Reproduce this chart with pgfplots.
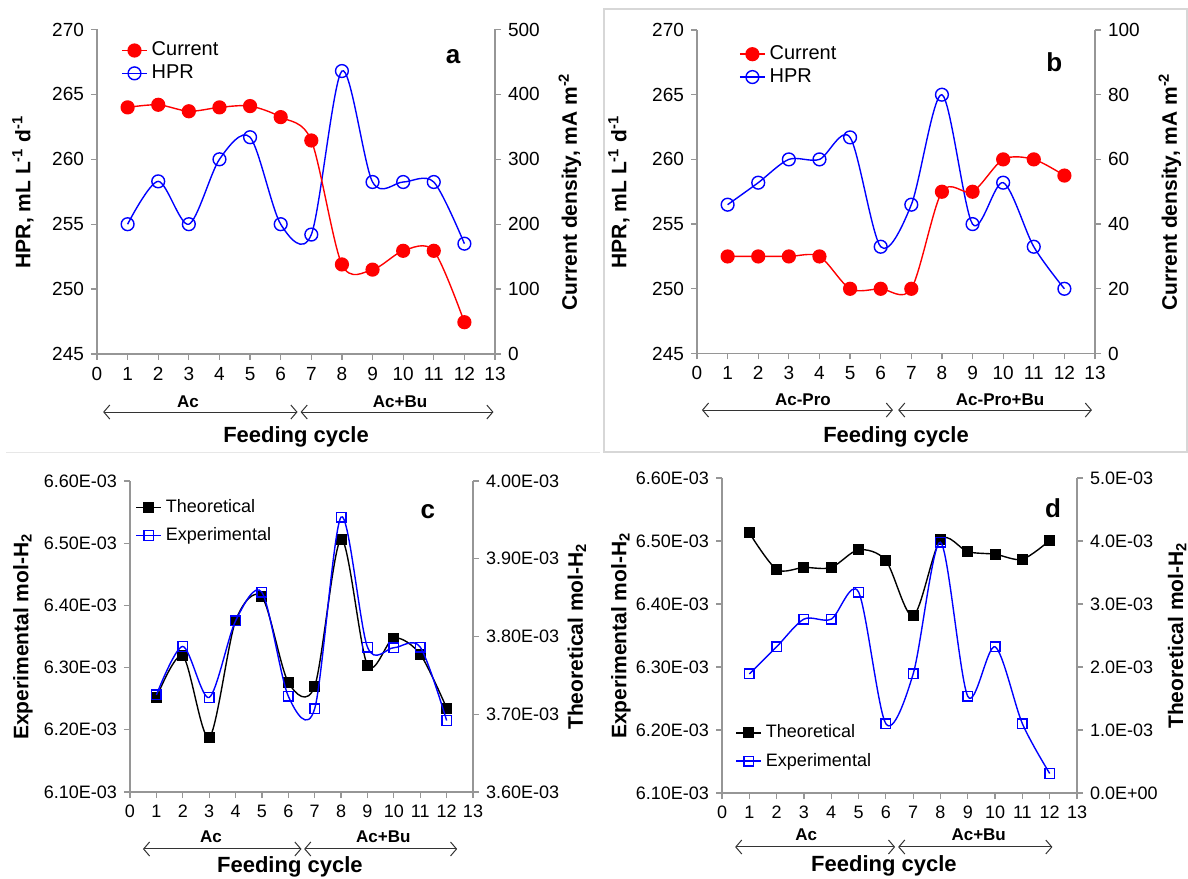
\documentclass[border=0pt]{standalone}
\usepackage{fontspec}
\setmainfont{Liberation Sans}
\usepackage{pgfplots}
\pgfplotsset{compat=1.18}
\usetikzlibrary{arrows.meta}
\definecolor{axgray}{RGB}{150,150,150}
\definecolor{boxgray}{RGB}{215,215,215}
\newcommand{\tickfontA}{\fontsize{9.5}{11}\selectfont}
\newcommand{\tickfontC}{\fontsize{9}{10.5}\selectfont}
\newcommand{\labfont}{\fontsize{10.5}{12}\selectfont\bfseries}
\newcommand{\featfont}{\fontsize{11}{13}\selectfont\bfseries}
\newcommand{\groupfont}{\fontsize{8.5}{10}\selectfont\bfseries}
\newcommand{\letterfont}{\fontsize{13}{15}\selectfont\bfseries}
\tikzset{arr/.style={draw=black!80, line width=0.5pt, {Straight Barb[length=3pt,width=7pt]}-{Straight Barb[length=3pt,width=7pt]}}}
\pgfplotsset{
  panel/.style={scale only axis, anchor=south west, xmin=0, xmax=13, clip=false,
    scaled y ticks=false,
    axis line style={draw=axgray, line width=0.6pt},
    every tick/.style={draw=axgray, line width=0.6pt},
    major tick length=3pt, tick align=outside,
    /pgf/number format/assume math mode=true},
  leftax/.style={panel, axis x line*=bottom, axis y line*=left, xtick={0,1,...,13}},
  rightax/.style={panel, axis x line=none, axis y line*=right},
  curr/.style={red, line width=0.7pt, smooth, mark=*, mark size=3.2pt, mark options={fill=red, draw=red, solid}},
  hpr/.style={blue, line width=0.7pt, smooth, mark=o, mark size=3.2pt, mark options={fill=white, draw=blue, solid}},
  theo/.style={black, line width=0.7pt, smooth, mark=square*, mark size=2.4pt, mark options={fill=black, draw=black, solid}},
  expt/.style={blue, line width=0.7pt, smooth, mark=square, mark size=2.4pt, mark options={draw=blue, solid}},
  leg/.style={legend style={draw=none, fill=none, at={#1}, anchor=north west, inner sep=0pt, row sep=-1pt},
    legend cell align=left,
    legend image code/.code={\draw[mark repeat=2,mark phase=2,##1] plot coordinates {(0cm,0cm) (0.22cm,0cm) (0.44cm,0cm)};}},
}
\begin{document}
\begin{tikzpicture}
\path[use as bounding box] (0,0) rectangle (594pt,439pt);
\draw[boxgray, line width=0.6pt] (302pt,213pt) rectangle (593.5pt,434.5pt);
\draw[boxgray!60, line width=0.5pt] (3pt,212.5pt) -- (300pt,212.5pt);

% ---------------- Panel a ----------------
\begin{axis}[leftax, at={(48.5pt,262pt)}, width=199pt, height=162.25pt,
  ymin=245, ymax=270, ytick={245,250,...,270}, tick label style={font=\tickfontA},
  every axis y label/.style={at={(axis description cs:-0.186,0.5)}, rotate=90, anchor=center, font=\labfont},
  ylabel={HPR, mL L\textsuperscript{-1} d\textsuperscript{-1}}]
\addplot[hpr] coordinates {(1,255) (2,258.3) (3,255) (4,260) (5,261.7) (6,255) (7,254.2) (8,266.8) (9,258.25) (10,258.25) (11,258.25) (12,253.5)};
\draw[arr] (axis cs:0.2,240.53) -- (axis cs:6.55,240.53);
\draw[arr] (axis cs:6.65,240.53) -- (axis cs:12.95,240.53);
\node[font=\groupfont] at (axis cs:2.97,241.3) {Ac};
\node[font=\groupfont] at (axis cs:9.9,241.3) {Ac+Bu};
\node[font=\featfont] at (axis cs:6.5,238.6) {Feeding cycle};
\node[font=\letterfont] at (axis cs:11.63,267.9) {a};
\end{axis}
\begin{axis}[rightax, at={(48.5pt,262pt)}, width=199pt, height=162.25pt,
  ymin=0, ymax=500, ytick={0,100,...,500}, tick label style={font=\tickfontA},
  every axis y label/.style={at={(axis description cs:1.188,0.5)}, rotate=90, anchor=center, font=\labfont},
  ylabel={Current density, mA m\textsuperscript{-2}},
  leg={(axis description cs:0.06,0.975)}, legend style={font=\fontsize{10}{11}\selectfont}]
\addplot[curr] coordinates {(1,380) (2,384) (3,374) (4,380) (5,382) (6,365) (7,329) (8,138) (9,130) (10,159) (11,159) (12,49)};
\addlegendentry{Current}
\addlegendimage{hpr}
\addlegendentry{HPR}
\end{axis}

% ---------------- Panel b ----------------
\begin{axis}[leftax, at={(348.5pt,262.25pt)}, width=199pt, height=161.75pt,
  ymin=245, ymax=270, ytick={245,250,...,270}, tick label style={font=\tickfontA},
  every axis y label/.style={at={(axis description cs:-0.196,0.5)}, rotate=90, anchor=center, font=\labfont},
  ylabel={HPR, mL L\textsuperscript{-1} d\textsuperscript{-1}}]
\addplot[hpr] coordinates {(1,256.5) (2,258.2) (3,260) (4,260) (5,261.7) (6,253.25) (7,256.5) (8,265) (9,255) (10,258.2) (11,253.25) (12,250)};
\draw[arr] (axis cs:0.16,240.63) -- (axis cs:6.4,240.63);
\draw[arr] (axis cs:6.57,240.63) -- (axis cs:12.9,240.63);
\node[font=\groupfont] at (axis cs:3.46,241.4) {Ac-Pro};
\node[font=\groupfont] at (axis cs:9.9,241.4) {Ac-Pro+Bu};
\node[font=\featfont] at (axis cs:6.5,238.55) {Feeding cycle};
\node[font=\letterfont] at (axis cs:11.67,267.5) {b};
\end{axis}
\begin{axis}[rightax, at={(348.5pt,262.25pt)}, width=199pt, height=161.75pt,
  ymin=0, ymax=100, ytick={0,20,...,100}, tick label style={font=\tickfontA},
  every axis y label/.style={at={(axis description cs:1.188,0.5)}, rotate=90, anchor=center, font=\labfont},
  ylabel={Current density, mA m\textsuperscript{-2}},
  leg={(axis description cs:0.105,0.965)}, legend style={font=\fontsize{10}{11}\selectfont}]
\addplot[curr] coordinates {(1,30) (2,30) (3,30) (4,30) (5,20) (6,20) (7,20) (8,50) (9,50) (10,60) (11,60) (12,55)};
\addlegendentry{Current}
\addlegendimage{hpr}
\addlegendentry{HPR}
\end{axis}

% ---------------- Panel c ----------------
\begin{axis}[rightax, at={(65pt,43pt)}, width=171.5pt, height=155.5pt,
  ymin=3.6e-3, ymax=4.0e-3, ytick={3.6e-3,3.7e-3,3.8e-3,3.9e-3,4.0e-3},
  yticklabels={3.60E-03,3.70E-03,3.80E-03,3.90E-03,4.00E-03}, tick label style={font=\tickfontC},
  every axis y label/.style={at={(axis description cs:1.303,0.5)}, rotate=90, anchor=center, font=\labfont},
  ylabel={Theoretical mol-H\textsubscript{2}}]
\addplot[theo] coordinates {(1,3.721e-3) (2,3.775e-3) (3,3.670e-3) (4,3.820e-3) (5,3.851e-3) (6,3.741e-3) (7,3.736e-3) (8,3.925e-3) (9,3.763e-3) (10,3.798e-3) (11,3.777e-3) (12,3.708e-3)};
\end{axis}
\begin{axis}[leftax, at={(65pt,43pt)}, width=171.5pt, height=155.5pt,
  ymin=6.1e-3, ymax=6.6e-3, ytick={6.1e-3,6.2e-3,6.3e-3,6.4e-3,6.5e-3,6.6e-3},
  yticklabels={6.10E-03,6.20E-03,6.30E-03,6.40E-03,6.50E-03,6.60E-03}, tick label style={font=\tickfontC},
  every axis y label/.style={at={(axis description cs:-0.312,0.5)}, rotate=90, anchor=center, font=\labfont},
  ylabel={Experimental mol-H\textsubscript{2}},
  leg={(axis description cs:0.015,0.955)}, legend style={font=\fontsize{9}{10}\selectfont, row sep=2pt}]
\addlegendimage{theo}
\addlegendentry{Theoretical}
\addplot[expt] coordinates {(1,6.256e-3) (2,6.334e-3) (3,6.252e-3) (4,6.375e-3) (5,6.421e-3) (6,6.254e-3) (7,6.234e-3) (8,6.542e-3) (9,6.333e-3) (10,6.332e-3) (11,6.333e-3) (12,6.215e-3)};
\addlegendentry{Experimental}
\draw[arr] (axis cs:0.49,6.0084e-3) -- (axis cs:6.5,6.0084e-3);
\draw[arr] (axis cs:6.6,6.0084e-3) -- (axis cs:12.4,6.0084e-3);
\node[font=\groupfont] at (axis cs:3.07,6.0277e-3) {Ac};
\node[font=\groupfont] at (axis cs:9.6,6.0277e-3) {Ac+Bu};
\node[font=\featfont] at (axis cs:6.06,5.9794e-3) {Feeding cycle};
\node[font=\letterfont] at (axis cs:11.29,6.55e-3) {c};
\end{axis}

% ---------------- Panel d ----------------
\begin{axis}[rightax, at={(361pt,42.5pt)}, width=177.5pt, height=157.5pt,
  ymin=0, ymax=5e-3, ytick={0,1e-3,2e-3,3e-3,4e-3,5e-3},
  yticklabels={0.0E+00,1.0E-03,2.0E-03,3.0E-03,4.0E-03,5.0E-03}, tick label style={font=\tickfontC},
  every axis y label/.style={at={(axis description cs:1.282,0.5)}, rotate=90, anchor=center, font=\labfont},
  ylabel={Theoretical mol-H\textsubscript{2}}]
\addplot[theo] coordinates {(1,4.13e-3) (2,3.55e-3) (3,3.58e-3) (4,3.58e-3) (5,3.86e-3) (6,3.69e-3) (7,2.81e-3) (8,4.02e-3) (9,3.83e-3) (10,3.79e-3) (11,3.71e-3) (12,4.01e-3)};
\end{axis}
\begin{axis}[leftax, at={(361pt,42.5pt)}, width=177.5pt, height=157.5pt,
  ymin=6.1e-3, ymax=6.6e-3, ytick={6.1e-3,6.2e-3,6.3e-3,6.4e-3,6.5e-3,6.6e-3},
  yticklabels={6.10E-03,6.20E-03,6.30E-03,6.40E-03,6.50E-03,6.60E-03}, tick label style={font=\tickfontC},
  every axis y label/.style={at={(axis description cs:-0.285,0.5)}, rotate=90, anchor=center, font=\labfont},
  ylabel={Experimental mol-H\textsubscript{2}},
  leg={(axis description cs:0.037,0.23)}, legend style={font=\fontsize{9}{10}\selectfont, row sep=2pt}]
\addlegendimage{theo}
\addlegendentry{Theoretical}
\addplot[expt] coordinates {(1,6.289e-3) (2,6.332e-3) (3,6.376e-3) (4,6.376e-3) (5,6.419e-3) (6,6.210e-3) (7,6.289e-3) (8,6.498e-3) (9,6.2535e-3) (10,6.332e-3) (11,6.210e-3) (12,6.131e-3)};
\addlegendentry{Experimental}
\draw[arr] (axis cs:0.48,6.0143e-3) -- (axis cs:6.34,6.0143e-3);
\draw[arr] (axis cs:6.45,6.0143e-3) -- (axis cs:12.1,6.0143e-3);
\node[font=\groupfont] at (axis cs:3.08,6.0333e-3) {Ac};
\node[font=\groupfont] at (axis cs:9.4,6.0333e-3) {Ac+Bu};
\node[font=\featfont] at (axis cs:5.93,5.9841e-3) {Feeding cycle};
\node[font=\letterfont] at (axis cs:12.12,6.552e-3) {d};
\end{axis}
\end{tikzpicture}
\end{document}
